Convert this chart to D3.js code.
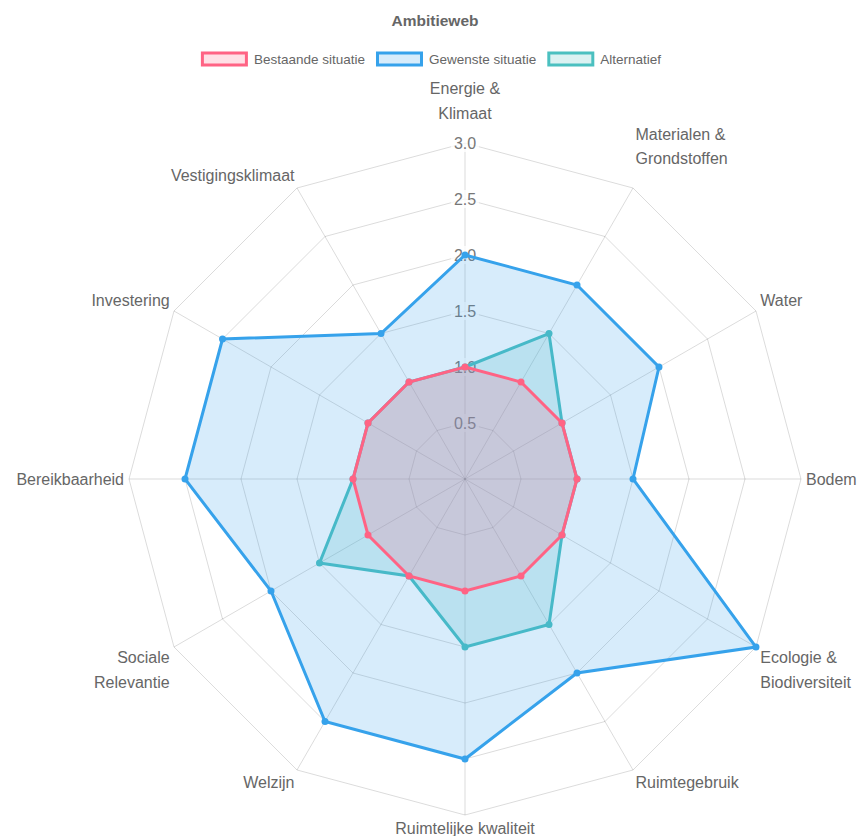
<!DOCTYPE html>
<html>
<head>
<meta charset="utf-8">
<script src="https://cdn.jsdelivr.net/npm/d3@7"></script>
<style>
  body { margin: 0; background: #fff; }
  text { font-family: "Liberation Sans", Arial, Helvetica, sans-serif; }
</style>
</head>
<body>
<div class="canvas"></div>
<script>
// axis labels (multi-line ones split into lines)
const categories = [
    ['Energie &', 'Klimaat'],
    ['Materialen &', 'Grondstoffen'],
    ['Water'],
    ['Bodem'],
    ['Ecologie &', 'Biodiversiteit'],
    ['Ruimtegebruik'],
    ['Ruimtelijke kwaliteit'],
    ['Welzijn'],
    ['Sociale', 'Relevantie'],
    ['Bereikbaarheid'],
    ['Investering'],
    ['Vestigingsklimaat']
];
const bestaande = [1, 1, 1, 1, 1, 1, 1, 1, 1, 1, 1, 1];
const gewenste = [2, 2, 2, 1.5, 3, 2, 2.5, 2.5, 2, 2.5, 2.5, 1.5];
const alternatief = [1, 1.5, 1, 1, 1, 1.5, 1.5, 1, 1.5, 1, 1, 1];
const tickValues = [0.5, 1, 1.5, 2, 2.5, 3];
const seriesNames = ['Bestaande situatie', 'Gewenste situatie', 'Alternatief'];
const seriesColors = ['255,99,132', '54,162,235', '75,192,192'];

const width = 858, height = 836;
const cx = 465, cy = 479, outer = 336;

const svg = d3.select('.canvas')
    .append('svg')
    .attr('width', width)
    .attr('height', height);

const r = d3.scaleLinear().domain([0, 3]).range([0, outer]);
const angle = d3.scaleLinear().domain([0, categories.length]).range([0, 2 * Math.PI]);
const pos = (i, rad) => [cx + rad * Math.sin(angle(i)), cy - rad * Math.cos(angle(i))];

// title
svg.append('text')
    .attr('x', 435).attr('y', 20)
    .attr('text-anchor', 'middle').attr('dominant-baseline', 'central')
    .attr('font-size', 15.5).attr('font-weight', 'bold').attr('fill', '#666')
    .text('Ambitieweb');

// legend
const legend = svg.append('g');
let lx = 0;
seriesNames.forEach((name, i) => {
    const item = legend.append('g').attr('transform', `translate(${lx},0)`);
    item.append('rect')
        .attr('x', 1.5).attr('y', -6).attr('width', 44).attr('height', 12)
        .attr('fill', `rgba(${seriesColors[i]},0.2)`)
        .attr('stroke', `rgb(${seriesColors[i]})`).attr('stroke-width', 3);
    const t = item.append('text')
        .attr('x', 53).attr('y', 0)
        .attr('dominant-baseline', 'central')
        .attr('font-size', 13.5).attr('fill', '#666')
        .text(name);
    lx += 53 + t.node().getComputedTextLength() + 11;
});
lx -= 11;
legend.attr('transform', `translate(${431 - lx / 2},59)`);

const graph = svg.append('g');

// grid rings
const ring = d3.line().curve(d3.curveLinearClosed);
graph.selectAll('.ring')
    .data(tickValues)
    .enter()
    .append('path')
    .attr('d', t => ring(categories.map((c, i) => pos(i, r(t)))))
    .attr('fill', 'none')
    .attr('stroke', 'rgba(0,0,0,0.14)')
    .attr('stroke-width', 1);

// angle lines
graph.selectAll('.spoke')
    .data(categories)
    .enter()
    .append('line')
    .attr('x1', cx).attr('y1', cy)
    .attr('x2', (d, i) => pos(i, outer)[0])
    .attr('y2', (d, i) => pos(i, outer)[1])
    .attr('stroke', 'rgba(0,0,0,0.14)')
    .attr('stroke-width', 1);

// tick labels with backdrop
const tickG = graph.selectAll('.tick')
    .data(tickValues)
    .enter()
    .append('g')
    .attr('transform', t => `translate(${cx},${cy - r(t)})`);
tickG.append('rect')
    .attr('x', -14).attr('y', -9).attr('width', 28).attr('height', 18)
    .attr('fill', 'rgba(255,255,255,0.75)');
tickG.append('text')
    .attr('text-anchor', 'middle').attr('dominant-baseline', 'central')
    .attr('font-size', 16).attr('fill', '#777')
    .text(t => d3.format('.1f')(t));

// point labels
const lineGap = 24.5;
categories.forEach((lines, i) => {
    const deg = (angle(i) * 180 / Math.PI) % 360;
    const [px, py] = pos(i, outer + 5);
    let anchor = 'middle';
    if (deg > 0.5 && deg < 179.5) anchor = 'start';
    else if (deg > 180.5) anchor = 'end';
    let y0;
    if (Math.abs(deg - 90) < 0.5 || Math.abs(deg - 270) < 0.5) y0 = py - (lines.length - 1) * lineGap / 2;
    else if (deg < 90 || deg > 270) y0 = py - 8.5 - (lines.length - 1) * 41;
    else y0 = py + 8;
    const txt = svg.append('text')
        .attr('text-anchor', anchor)
        .attr('font-size', 16).attr('fill', '#666');
    lines.forEach((ln, k) => {
        txt.append('tspan')
            .attr('x', px).attr('y', y0 + k * lineGap)
            .attr('dominant-baseline', 'central')
            .text(ln);
    });
});

// datasets: last one drawn first so the first sits on top
const datasets = [bestaande, gewenste, alternatief];
for (let s = datasets.length - 1; s >= 0; s--) {
    const values = datasets[s];
    const pts = values.map((v, i) => pos(i, r(v)));
    graph.append('path')
        .attr('d', ring(pts))
        .attr('fill', `rgba(${seriesColors[s]},0.2)`)
        .attr('stroke', `rgb(${seriesColors[s]})`)
        .attr('stroke-width', 3)
        .attr('stroke-linejoin', 'miter');
    graph.selectAll(null)
        .data(pts)
        .enter()
        .append('circle')
        .attr('cx', d => d[0]).attr('cy', d => d[1])
        .attr('r', 3.5)
        .attr('fill', `rgb(${seriesColors[s]})`);
}
</script>
</body>
</html>
